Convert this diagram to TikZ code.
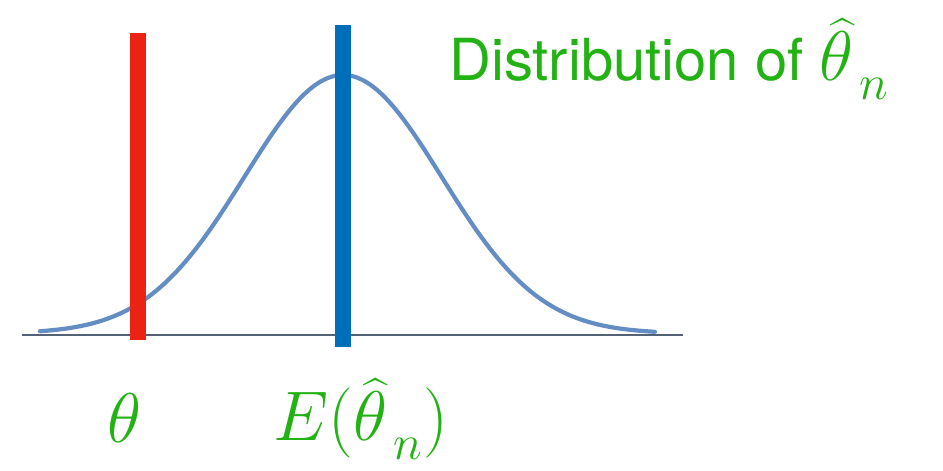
\RequirePackage{fix-cm}
\documentclass[tikz,border=0pt]{standalone}
\usepackage{fontspec}
\setsansfont{TeX Gyre Heros}
\usepackage{amsmath}
\usetikzlibrary{positioning}
\definecolor{axisgray}{RGB}{85,98,118}
\definecolor{curveblue}{RGB}{100,142,195}
\definecolor{truered}{RGB}{235,35,20}
\definecolor{meanblue}{RGB}{0,110,185}
\definecolor{labelgreen}{RGB}{35,178,20}
\newcommand{\lowsub}{_{\mkern3mu\lower5pt\hbox{$\scriptstyle n$}}}

\begin{document}
\begin{tikzpicture}[
    axisline/.style={draw=axisgray,line width=1.2pt},
    bar/.style={line width=0.32cm},
    density/.style={draw=curveblue,line width=2.4pt,line cap=round},
    lbl/.style={text=labelgreen,inner sep=0pt,font=\fontsize{40}{44}\selectfont},
    title/.style={text=labelgreen,inner sep=0pt,font=\fontsize{33}{40}\selectfont\sffamily}
  ]
    \useasboundingbox (0,0) rectangle (18.86,9.4);

    % axis
    \coordinate (axl) at (0.44,2.7);
    \coordinate (axr) at (13.66,2.7);
    \draw[axisline] (axl) -- (axr);

    % sampling distribution
    \draw[density] plot[domain=0.8:13.1,samples=120,smooth]
      (\x,{2.73+5.17*exp(-((\x-6.86)^2)/(2*1.97^2))});

    % true value and mean
    \coordinate (tbot) at (2.76,2.6);
    \coordinate (ttop) at (2.76,8.74);
    \coordinate (mbot) at (6.86,2.46);
    \coordinate (mtop) at (6.86,8.9);
    \draw[bar,truered] (tbot) -- (ttop);
    \draw[bar,meanblue] (mbot) -- (mtop);

    % labels
    \node[lbl,anchor=base] (thetalbl) at (2.48,0.56) {$\theta$};
    \node[lbl,anchor=base west] (meanlbl) at (5.46,0.6) {$E(\widehat{\theta}\lowsub)$};
    \node[title,anchor=base west] (distlbl) at (8.98,7.8)
      {Distribution of {\fontsize{40}{44}\selectfont$\widehat{\theta}\lowsub$}};
  \end{tikzpicture}
\end{document}
